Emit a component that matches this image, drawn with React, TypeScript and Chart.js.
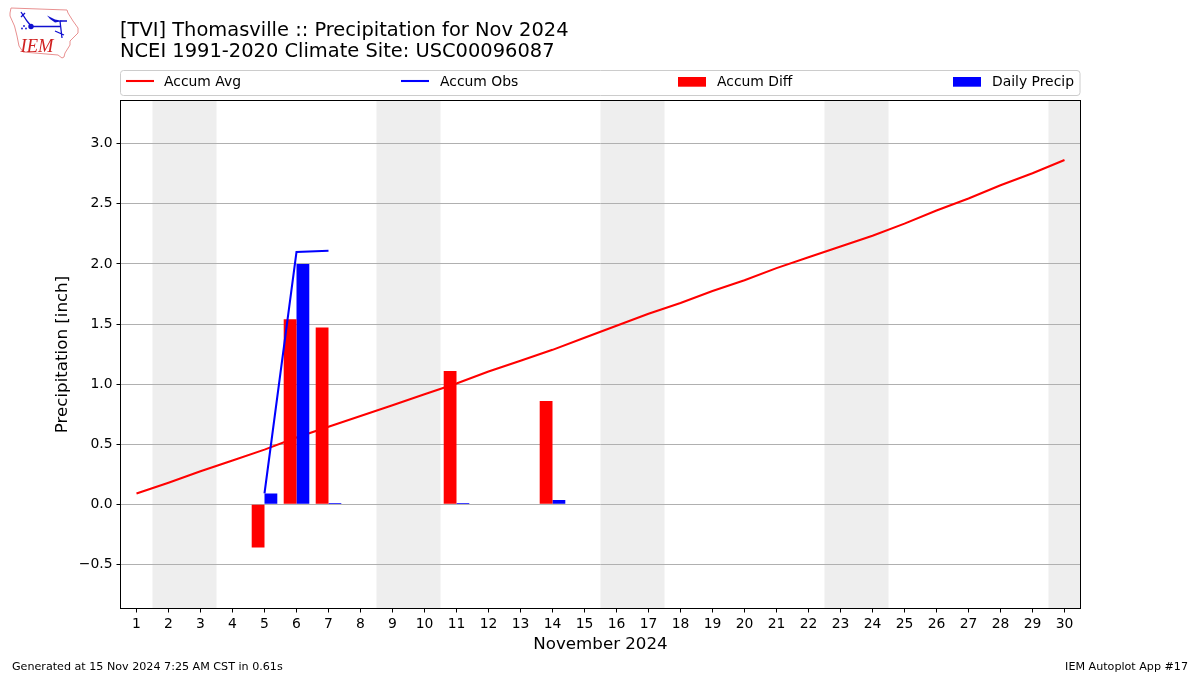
import React, { useEffect, useRef } from "react";
import { Chart, registerables } from "chart.js";

Chart.register(...registerables);

const days = ["1","2","3","4","5","6","7","8","9","10","11","12","13","14","15","16","17","18","19","20","21","22","23","24","25","26","27","28","29","30"];
const accumAvg = [0.09,0.18,0.275,0.365,0.455,0.555,0.645,0.735,0.825,0.915,1.005,1.105,1.195,1.285,1.385,1.485,1.585,1.675,1.775,1.865,1.965,2.055,2.145,2.235,2.335,2.445,2.545,2.655,2.755,2.865];
const accumObs = [null,null,null,null,0.09,2.1,2.11,null,null,null,null,null,null,null,null,null,null,null,null,null,null,null,null,null,null,null,null,null,null,null];
const accumDiff = [null,null,null,null,-0.36,1.54,1.47,null,null,null,1.11,null,null,0.86,null,null,null,null,null,null,null,null,null,null,null,null,null,null,null,null];
const dailyPrecip = [null,null,null,null,0.09,2.0,0.01,null,null,null,0.01,null,null,0.035,null,null,null,null,null,null,null,null,null,null,null,null,null,null,null,null];
const yTicks = [-0.5,0,0.5,1,1.5,2,2.5,3];
const weekendSpans = [[1.5,3.5],[8.5,10.5],[15.5,17.5],[22.5,24.5],[29.5,30.5]];
const titleLines = ["[TVI] Thomasville :: Precipitation for Nov 2024","NCEI 1991-2020 Climate Site: USC00096087"];
const footerLeft = "Generated at 15 Nov 2024 7:25 AM CST in 0.61s";
const footerRight = "IEM Autoplot App #17";
const FONT = '"DejaVu Sans"';

const weekendPlugin = {
  id: "weekends",
  beforeDraw(chart: any) {
    const { ctx, chartArea: a, scales } = chart;
    ctx.save();
    ctx.fillStyle = "#eeeeee";
    for (const [s, e] of weekendSpans) {
      const x0 = scales.x.getPixelForValue(s - 1);
      const x1 = scales.x.getPixelForValue(e - 1);
      ctx.fillRect(x0, a.top, x1 - x0, a.bottom - a.top);
    }
    ctx.restore();
  },
};

const decorPlugin = {
  id: "decor",
  afterDraw(chart: any) {
    const { ctx, chartArea: a } = chart;
    ctx.save();
    ctx.strokeStyle = "#000";
    ctx.lineWidth = 1;
    ctx.strokeRect(a.left, a.top, a.right - a.left, a.bottom - a.top);

    ctx.fillStyle = "#000";
    ctx.textBaseline = "alphabetic";
    ctx.textAlign = "left";
    ctx.font = `19.45px ${FONT}`;
    ctx.fillText(titleLines[0], 120, 35.5);
    ctx.fillText(titleLines[1], 120, 57);

    ctx.font = `11.13px ${FONT}`;
    ctx.fillText(footerLeft, 12, 670);
    ctx.textAlign = "right";
    ctx.fillText(footerRight, 1188, 670);
    ctx.textAlign = "left";

    ctx.strokeStyle = "#cccccc";
    ctx.fillStyle = "#fff";
    ctx.beginPath();
    ctx.roundRect(120.5, 70.5, 959.5, 25, 3);
    ctx.fill();
    ctx.stroke();

    const entries = [
      { ds: 0, hx: 126, tx: 164, bar: false },
      { ds: 1, hx: 401, tx: 440, bar: false },
      { ds: 2, hx: 678, tx: 717, bar: true },
      { ds: 3, hx: 953, tx: 992, bar: true },
    ];
    ctx.font = `13.9px ${FONT}`;
    for (const en of entries) {
      const d = chart.data.datasets[en.ds];
      if (en.bar) {
        ctx.fillStyle = d.backgroundColor;
        ctx.fillRect(en.hx, 77, 28, 9.7);
      } else {
        ctx.strokeStyle = d.borderColor;
        ctx.lineWidth = 2.08;
        ctx.beginPath();
        ctx.moveTo(en.hx, 81);
        ctx.lineTo(en.hx + 28, 81);
        ctx.stroke();
      }
      ctx.fillStyle = "#000";
      ctx.fillText(d.label, en.tx, 86);
    }
    ctx.restore();
  },
};

function Logo() {
  return (
    <svg width="82" height="60" viewBox="0 0 82 60" style={{ position: "absolute", left: 0, top: 0 }}>
      <path d="M11 8 L67 10 L68 13 L73 21 L78 28 L78 33 L73 38 L70 41 L70 45 L65 53 L64 57 L62 58 L58 55 L23 52 L19 46 L17 36 L14.5 26 L10 16 L10 13 Z" fill="#fff" stroke="#e89090" strokeWidth="1" />
      <path d="M21 12 L27 21 L31 26 M21 17 L25 13 M31 26.5 L60 26.5 M60 21 L62 38 M55 31 L64 35 M60 21 L67 21" fill="none" stroke="#1010d0" strokeWidth="1.3" />
      <path d="M47 15.5 L55 19.5 L63 21 L55 22.5 L50 19 Z" fill="#1010d0" />
      <circle cx="31" cy="26.5" r="2.7" fill="#1010d0" />
      <circle cx="24" cy="26" r="0.9" fill="#1010d0" />
      <circle cx="22" cy="28.5" r="0.9" fill="#1010d0" />
      <circle cx="26" cy="28.5" r="0.9" fill="#1010d0" />
      <text x="20.5" y="51.5" fontFamily='"Liberation Serif"' fontStyle="italic" fontSize="18.5" fill="#d02020">IEM</text>
    </svg>
  );
}

export default function App() {
  const ref = useRef<HTMLCanvasElement>(null);
  useEffect(() => {
    document.body.style.margin = "0";
    const chart = new Chart(ref.current!, {
      type: "bar",
      data: {
        labels: days,
        datasets: [
          { type: "line", label: "Accum Avg", data: accumAvg, borderColor: "#ff0000", borderWidth: 2.08, pointRadius: 0, tension: 0, order: 3 },
          { type: "line", label: "Accum Obs", data: accumObs, borderColor: "#0000ff", borderWidth: 2.08, pointRadius: 0, tension: 0, order: 0 },
          { type: "bar", label: "Accum Diff", data: accumDiff, backgroundColor: "#ff0000", categoryPercentage: 0.8, barPercentage: 1, order: 1 },
          { type: "bar", label: "Daily Precip", data: dailyPrecip, backgroundColor: "#0000ff", categoryPercentage: 0.8, barPercentage: 1, order: 2 },
        ] as any,
      },
      options: {
        responsive: false,
        animation: false,
        layout: { padding: { left: 53, top: 100.5, right: 119.5, bottom: 20.5 } },
        plugins: { legend: { display: false }, title: { display: false }, tooltip: { enabled: false } },
        scales: {
          x: {
            type: "category",
            offset: true,
            grid: { drawOnChartArea: false, offset: false, tickColor: "#000", tickLength: 4 },
            border: { display: false },
            ticks: { autoSkip: false, maxRotation: 0, minRotation: 0, color: "#000", font: { family: FONT, size: 13.9 }, padding: 4 },
            title: { display: true, text: "November 2024", color: "#000", font: { family: FONT, size: 16.67 }, padding: 0 },
            afterFit(s: any) { s.height = 46; },
          },
          y: {
            type: "linear",
            min: -0.86696,
            max: 3.35968,
            grid: { color: "#b0b0b0", lineWidth: 1, tickColor: "#000", tickLength: 4 },
            border: { display: false },
            afterBuildTicks(s: any) { s.ticks = yTicks.map((value) => ({ value })); },
            ticks: {
              color: "#000",
              font: { family: FONT, size: 13.9 },
              padding: 4,
              callback: (v: any) => (v < 0 ? "\u2212" : "") + Math.abs(Number(v)).toFixed(1),
            },
            title: { display: true, text: "Precipitation [inch]", color: "#000", font: { family: FONT, size: 16.67 }, padding: 0 },
            afterFit(s: any) { s.width = 67.5; },
          },
        },
      } as any,
      plugins: [weekendPlugin, decorPlugin],
    });
    return () => chart.destroy();
  }, []);
  return (
    <div style={{ position: "relative", width: 1200, height: 675 }}>
      <canvas ref={ref} width={1200} height={675} style={{ position: "absolute", left: 0, top: 0 }} />
      <Logo />
    </div>
  );
}
